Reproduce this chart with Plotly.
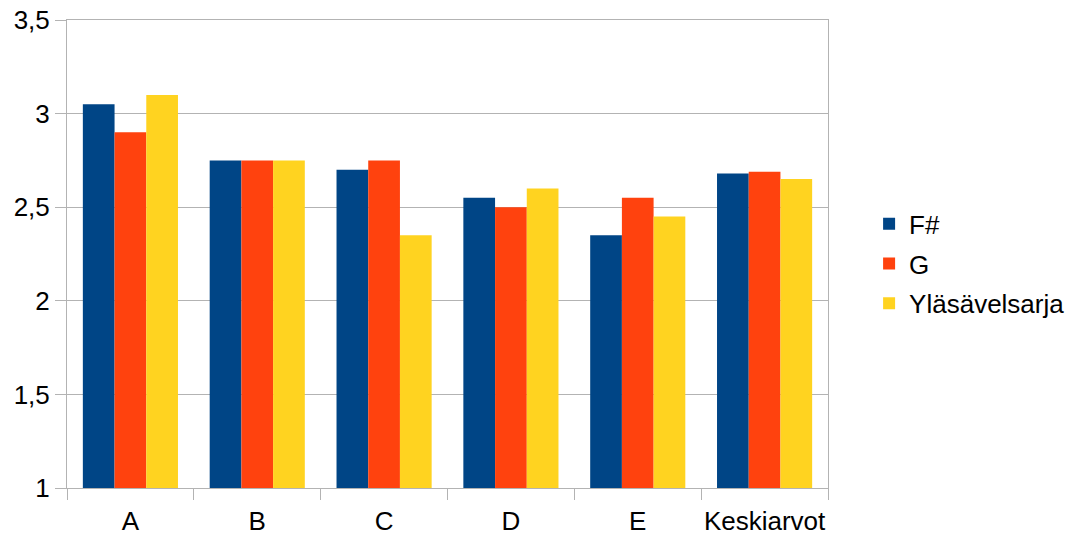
import plotly.graph_objects as go

categories = ["A", "B", "C", "D", "E", "Keskiarvot"]
series_names = ["F#", "G", "Yläsävelsarja"]
fsharp = [3.05, 2.75, 2.70, 2.55, 2.35, 2.68]
g = [2.90, 2.75, 2.75, 2.50, 2.55, 2.69]
ylasavel = [3.10, 2.75, 2.35, 2.60, 2.45, 2.65]
colors = ["#004586", "#ff420e", "#ffd320"]

fig = go.Figure()
for name, vals, col in zip(series_names, [fsharp, g, ylasavel], colors):
    fig.add_trace(go.Bar(
        x=categories, y=vals, name=name, legendgroup=name,
        marker=dict(color=col, line=dict(width=0)),
    ))

font = dict(family="Liberation Sans, Arial, sans-serif", size=26, color="#000000")
fig.update_layout(
    width=1075, height=535,
    margin=dict(l=67, r=247, t=20, b=47, autoexpand=False),
    plot_bgcolor="white", paper_bgcolor="white",
    separators=", ",
    barmode="group", bargap=0.25, bargroupgap=0,
    font=font,
    legend=dict(x=1.054, xanchor="left", y=0.479, yanchor="middle",
                font=font, tracegroupgap=3, itemwidth=30),
    xaxis=dict(
        type="category", tickson="boundaries", ticks="outside", ticklen=11,
        tickcolor="#b3b3b3", showline=True, linecolor="#b3b3b3", linewidth=1,
        mirror=True, showgrid=False, tickfont=font, automargin=False,
        ticklabelstandoff=10, tickangle=0,
    ),
    yaxis=dict(
        range=[1, 3.5], dtick=0.5, tick0=1, ticks="outside", ticklen=11,
        tickcolor="#b3b3b3", showline=True, linecolor="#b3b3b3", linewidth=1,
        mirror=True, showgrid=True, gridcolor="#b3b3b3", gridwidth=1,
        zeroline=False, tickfont=font, tickformat=".1~f", automargin=False,
    ),
)
fig.write_html("out.html")
